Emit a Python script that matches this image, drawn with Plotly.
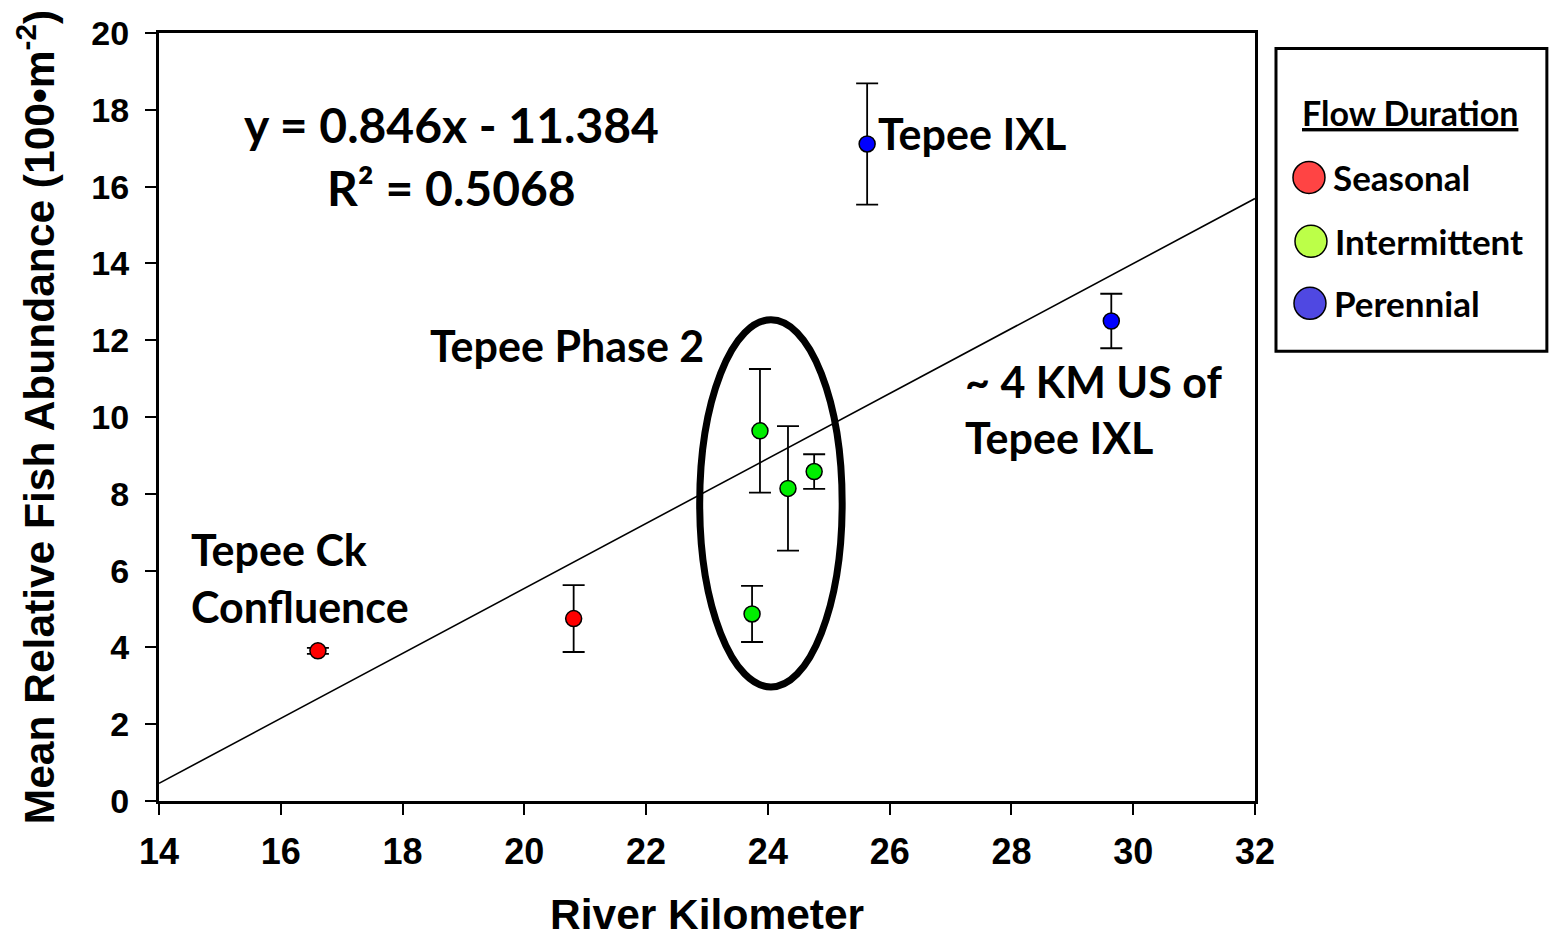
import plotly.graph_objects as go

# ---------------- data ----------------
series_names = ["Seasonal", "Intermittent", "Perennial"]

seasonal_km = [16.61, 20.81]
seasonal_mean = [3.91, 4.75]
seasonal_err = [0.08, 0.87]

intermittent_km = [23.74, 23.87, 24.33, 24.76]
intermittent_mean = [4.87, 9.64, 8.14, 8.58]
intermittent_err = [0.73, 1.61, 1.62, 0.45]

perennial_km = [25.63, 29.64]
perennial_mean = [17.11, 12.50]
perennial_err = [1.58, 0.71]

fit_slope = 0.846
fit_intercept = -11.384
fit_r2 = 0.5068
x_range = [14, 32]
y_range = [0, 20]

marker_colors = ["#FF0000", "#00EE00", "#0000FF"]
legend_colors = ["#FF4444", "#BCFF48", "#4F48E2"]

# ---------------- figure ----------------
W, H = 1552, 941
L, R, T, B = 158.5, 1255, 32.5, 801

fig = go.Figure()

fit_x = list(x_range)
fit_y = [fit_slope * v + fit_intercept for v in fit_x]
fig.add_trace(go.Scatter(x=fit_x, y=fit_y, mode="lines",
                         line=dict(color="black", width=1.6),
                         showlegend=False, hoverinfo="skip", cliponaxis=True))

groups = [
    (seasonal_km, seasonal_mean, seasonal_err),
    (intermittent_km, intermittent_mean, intermittent_err),
    (perennial_km, perennial_mean, perennial_err),
]
for name, (xs, ys, es), col in zip(series_names, groups, marker_colors):
    fig.add_trace(go.Scatter(
        x=xs, y=ys, mode="markers", name=name,
        marker=dict(size=16, color=col, line=dict(color="black", width=1.5)),
        error_y=dict(type="data", array=es, visible=True, color="black",
                     thickness=1.8, width=11),
        showlegend=False, cliponaxis=False))

xtick_font = dict(family="Liberation Sans, Arial", size=36, color="black", weight="bold")
ytick_font = dict(family="Liberation Sans, Arial", size=34, color="black", weight="bold")
title_font = dict(family="Liberation Sans, Arial", size=42.5, color="black", weight="bold")

fig.update_xaxes(range=x_range, dtick=2, tick0=14, showgrid=False, zeroline=False,
                 showline=True, linewidth=3, linecolor="black", mirror=True,
                 ticks="outside", ticklen=11, tickwidth=1.6, tickcolor="black",
                 tickfont=xtick_font, ticklabelstandoff=6)
fig.update_yaxes(range=y_range, dtick=2, tick0=0, showgrid=False, zeroline=False,
                 showline=True, linewidth=3, linecolor="black", mirror=True,
                 ticks="outside", ticklen=11, tickwidth=1.6, tickcolor="black",
                 tickfont=ytick_font, ticklabelstandoff=9,
                 title=dict(text="Mean Relative Fish Abundance (100\u2022m<sup>-2</sup>)",
                            font=title_font, standoff=24))

def px(xp):
    return (xp - L) / (R - L)

def py(yp):
    return (B - yp) / (B - T)

# x-axis title, kept fully inside the page
fig.add_annotation(text="River Kilometer", x=0.5, y=py(H - 1), xref="paper", yref="paper",
                   showarrow=False, xanchor="center", yanchor="bottom", font=title_font)

# ellipse around Tepee Phase 2 sites
fig.add_shape(type="circle", xref="x", yref="y", x0=22.88, x1=25.22, y0=2.97, y1=12.53,
              line=dict(color="black", width=7))

ann_font = dict(family="Lato", size=43, color="black", weight="bold")
eq_font = dict(family="Lato", size=48, color="black", weight="bold")

def add_text(text, x, y, font, xanchor="left"):
    fig.add_annotation(text=text, x=x, y=y, xref="x", yref="y", showarrow=False,
                       xanchor=xanchor, yanchor="middle", font=font)

add_text(f"y = {fit_slope}x - {abs(fit_intercept)}", 18.80, 17.62, eq_font, "center")
add_text(f"R\u00b2 = {fit_r2}", 18.80, 15.98, eq_font, "center")
add_text("Tepee IXL", 25.77, 17.38, ann_font)
add_text("Tepee Phase 2", 18.42, 11.87, ann_font)
add_text("~ 4 KM US of", 27.20, 10.93, ann_font)
add_text("Tepee IXL", 27.20, 9.47, ann_font)
add_text("Tepee Ck", 14.50, 6.56, ann_font)
add_text("Confluence", 14.50, 5.07, ann_font)

# ---------------- manual legend ----------------
fig.add_shape(type="rect", xref="paper", yref="paper",
              x0=px(1276), x1=px(1547), y0=py(351), y1=py(48),
              line=dict(color="black", width=3), fillcolor="white")
leg_font = dict(family="Lato", size=35, color="black", weight="bold")
fig.add_annotation(text="<u>Flow Duration</u>", x=px(1410), y=py(112), xref="paper", yref="paper",
                   showarrow=False, xanchor="center", yanchor="middle",
                   font=dict(family="Lato", size=34, color="black", weight="bold"))
leg_cy = [177, 241, 303]
leg_cx = [1309, 1311, 1310]
for name, col, cx, cy in zip(series_names, legend_colors, leg_cx, leg_cy):
    r = 16
    fig.add_shape(type="circle", xref="paper", yref="paper",
                  x0=px(cx - r), x1=px(cx + r), y0=py(cy + r), y1=py(cy - r),
                  line=dict(color="black", width=1.5), fillcolor=col)
    fig.add_annotation(text=name, x=px(cx + 22), y=py(cy), xref="paper", yref="paper",
                       showarrow=False, xanchor="left", yanchor="middle", font=leg_font)

fig.update_layout(width=W, height=H, autosize=False,
                  margin=dict(l=L, r=W - R, t=T, b=H - B, autoexpand=False),
                  paper_bgcolor="white", plot_bgcolor="white", showlegend=False)

fig.write_html("out.html")
